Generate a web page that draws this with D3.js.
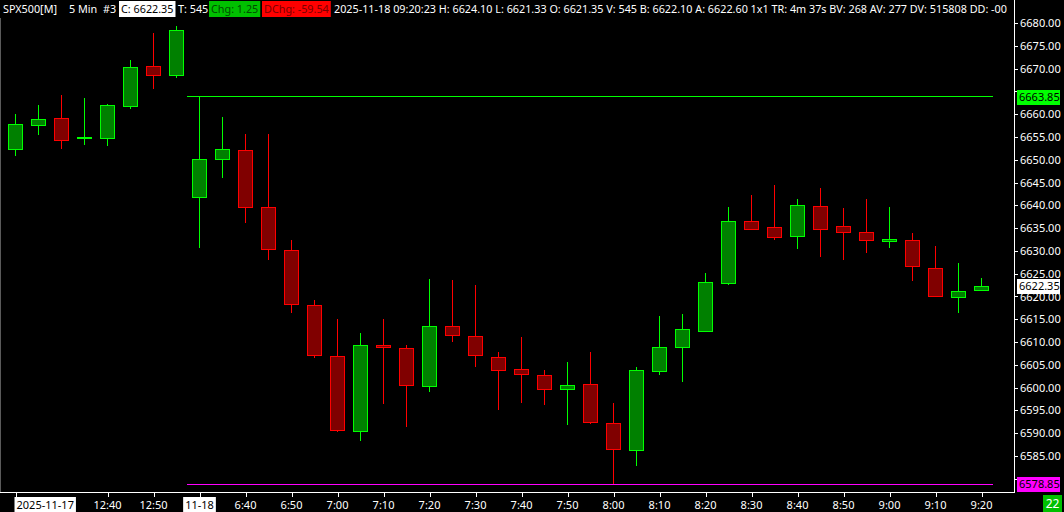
<!DOCTYPE html>
<html><head><meta charset="utf-8">
<script src="https://cdn.jsdelivr.net/npm/d3@7"></script>
<style>
html,body{margin:0;padding:0;background:#000;}
svg{display:block;}
text{font-family:"Noto Sans",sans-serif;}
</style></head><body>
<svg id="c" width="1064" height="512"></svg>
<script>
// ---- data ----
const times = ["12:20","12:25","12:30","12:35","12:40","12:45","12:50","12:55",
  "6:30","6:35","6:40","6:45","6:50","6:55","7:00","7:05","7:10","7:15","7:20","7:25","7:30","7:35",
  "7:40","7:45","7:50","7:55","8:00","8:05","8:10","8:15","8:20","8:25","8:30","8:35","8:40","8:45",
  "8:50","8:55","9:00","9:05","9:10","9:15","9:20"];
const opens  = [6652.3,6657.6,6659.1,6654.7,6654.7,6661.7,6670.5,6668.5,
  6641.9,6650.1,6652.1,6639.6,6630.2,6618.1,6606.9,6590.5,6609.3,6608.7,6600.3,6613.5,6611.3,6606.7,
  6604.1,6602.7,6599.7,6600.8,6592.2,6586.3,6603.6,6608.9,6612.5,6622.9,6636.5,6635.2,6633.2,6639.8,
  6635.4,6634.1,6632.1,6632.4,6626.2,6619.9,6621.35];
const highs  = [6660.0,6662.0,6664.2,6663.6,6662.2,6671.9,6677.8,6679.3,
  6663.85,6659.4,6655.7,6655.7,6632.4,6619.3,6615.1,6612.0,6615.1,6609.3,6623.9,6623.6,6622.5,6607.9,
  6611.1,6603.9,6605.7,6607.9,6596.7,6604.6,6615.8,6616.2,6625.2,6639.7,6642.3,6644.5,6641.4,6643.8,
  6639.4,6641.4,6639.7,6634.0,6631.1,6627.4,6624.10];
const lows   = [6650.9,6655.5,6652.3,6653.3,6653.1,6661.2,6665.6,6668.0,
  6630.7,6645.9,6636.2,6628.1,6616.3,6606.6,6590.2,6588.4,6596.5,6591.3,6599.1,6610.1,6604.6,6595.0,
  6596.7,6596.2,6591.7,6592.1,6578.85,6582.9,6602.7,6601.3,6612.1,6622.5,6634.6,6632.5,6630.5,6628.7,
  6627.9,6629.6,6630.7,6623.5,6619.8,6616.3,6621.33];
const closes = [6657.8,6658.9,6654.3,6654.9,6662.0,6670.3,6668.5,6678.4,
  6650.1,6652.3,6639.6,6630.4,6618.3,6607.1,6590.7,6609.3,6608.9,6600.6,6613.5,6611.5,6607.1,6603.8,
  6603.0,6599.7,6600.6,6592.4,6586.5,6603.8,6608.9,6612.8,6623.1,6636.5,6634.9,6633.0,6640.0,6634.9,
  6634.1,6632.4,6632.6,6626.6,6620.0,6621.2,6622.35];
const tickIndex = [0,4,6,8,10,12,14,16,18,20,22,24,26,28,30,32,34,36,38,40,42];
const tickText  = ["2025-11-17","12:40","12:50","11-18","6:40","6:50","7:00","7:10","7:20","7:30",
  "7:40","7:50","8:00","8:10","8:20","8:30","8:40","8:50","9:00","9:10","9:20"];
const boxedTicks = ["2025-11-17","11-18"];
const priceTicks = d3.range(6580, 6681, 5);
const dayHigh = 6663.85, dayLow = 6578.85, lastPrice = 6622.35, sessionStart = 8;
const headerText = ["SPX500[M]","5 Min","#3","C: 6622.35","T: 545","Chg: 1.25","DChg: -59.54",
  "2025-11-18 09:20:23 H: 6624.10 L: 6621.33 O: 6621.35 V: 545 B: 6622.10 A: 6622.60 1x1 TR: 4m 37s BV: 268 AV: 277 DV: 515808 DD: -00"];
const headerX    = [3,69,103,121,178,211,264,334];
const headerBg   = [null,null,null,"#ffffff",null,"#00c000","#ff0000",null];
const headerFg   = ["#fff","#fff","#fff","#000","#fff","#004d00","#7a0000","#fff"];
const barCount = "22";

// ---- drawing ----
const W = 1064, H = 512, plotR = 1014, plotB = 492, FS = "11px";
const svg = d3.select("#c");
svg.append("rect").attr("width",W).attr("height",H).attr("fill","#000");

const x = d3.scaleLinear().domain([0, times.length-1]).range([15, 981]);
const y = d3.scaleLinear().domain([6680, 6585]).range([23, 456]);
const step = x(1) - x(0);

const frame = svg.append("g").attr("shape-rendering","crispEdges");
frame.append("rect").attr("x",0).attr("y",18).attr("width",1).attr("height",plotB-18).attr("fill","#5a5a5a");
frame.append("rect").attr("x",plotR).attr("y",0).attr("width",1).attr("height",plotB+1).attr("fill","#fff");
frame.append("rect").attr("x",0).attr("y",plotB).attr("width",plotR+1).attr("height",1).attr("fill","#fff");

// day high / low lines
const lx1 = Math.round(x(sessionStart) - step/2), lx2 = Math.round(x(times.length-1) + step/2);
frame.append("rect").attr("x",lx1).attr("width",lx2-lx1).attr("y",Math.floor(y(dayHigh))).attr("height",1).attr("fill","#00ff00");
frame.append("rect").attr("x",lx1).attr("width",lx2-lx1).attr("y",Math.round(y(dayLow))).attr("height",1).attr("fill","#ff00ff");

// candles
const data = times.map((t,i)=>({t,i,o:opens[i],h:highs[i],l:lows[i],c:closes[i]}));
const g = svg.append("g").attr("shape-rendering","crispEdges");
g.selectAll("g.c").data(data).join("g").attr("class","c").each(function(d){
  const up = d.c >= d.o;
  const bright = up ? "#00ff00" : "#ff0000", dark = up ? "#008000" : "#800000";
  const cx = Math.round(x(d.i));
  const sel = d3.select(this);
  sel.append("rect").attr("x",cx).attr("width",1)
    .attr("y",Math.round(y(d.h))).attr("height",Math.max(1,Math.round(y(d.l))-Math.round(y(d.h))))
    .attr("fill",bright);
  const top = Math.round(y(Math.max(d.o,d.c))), bot = Math.round(y(Math.min(d.o,d.c)));
  const hh = Math.max(2, bot-top+1);
  sel.append("rect").attr("x",cx-7).attr("width",15).attr("y",top).attr("height",hh).attr("fill",bright);
  if (hh > 2) sel.append("rect").attr("x",cx-6).attr("width",13).attr("y",top+1).attr("height",hh-2).attr("fill",dark);
});

// price boxes (values shown on the right scale)
const boxes = [[dayHigh,"#00ff00","#000"],[lastPrice,"#ffffff","#000"],[dayLow,"#ff00ff","#000"]];

// right axis
const ya = svg.append("g").attr("transform",`translate(${plotR+1},0)`)
  .call(d3.axisRight(y).tickValues(priceTicks).tickFormat(d3.format(".2f")).tickSize(3).tickPadding(2));
ya.select(".domain").remove();
ya.selectAll(".tick line").attr("stroke","#fff").attr("shape-rendering","crispEdges");
ya.selectAll(".tick text").attr("fill","#fff").attr("font-size",FS).attr("font-family","Noto Sans");
// labels fully hidden behind a price box are not drawn
ya.selectAll(".tick").filter(d => boxes.some(b => Math.abs(y(b[0]) - y(d)) < 8)).select("text").remove();

boxes.forEach(([v,bg,fg])=>{
  const cy = Math.round(y(v));
  svg.append("rect").attr("x",1017).attr("y",cy-7).attr("width",43).attr("height",15).attr("fill",bg);
  svg.append("text").attr("x",1019).attr("y",cy+0.5).attr("dy","0.35em").attr("fill",fg)
    .attr("font-size",FS).text(d3.format(".2f")(v));
});

// bottom axis
const xa = svg.append("g").attr("transform",`translate(0,${plotB+1})`)
  .call(d3.axisBottom(x).tickValues(tickIndex).tickFormat((d,k)=>tickText[k]).tickSize(4).tickPadding(4));
xa.select(".domain").remove();
xa.selectAll(".tick line").attr("stroke","#fff").attr("transform","translate(0.5,0)").attr("shape-rendering","crispEdges");
xa.selectAll(".tick text").attr("fill","#fff").attr("font-size",FS).attr("font-family","Noto Sans");
xa.selectAll(".tick").each(function(d,k){
  const t = d3.select(this).select("text");
  if (boxedTicks.includes(tickText[k])) {
    const w = t.node().getComputedTextLength();
    let shift = 0;
    if (x(d) - w/2 < 16) shift = 16 - (x(d) - w/2);
    t.attr("x", shift).attr("fill","#000");
    d3.select(this).insert("rect","text").attr("x",-w/2+shift-2).attr("y",4).attr("width",w+4).attr("height",15).attr("fill","#fff");
  }
});

// bar count box
svg.append("rect").attr("x",1043).attr("y",495).attr("width",19).attr("height",17).attr("fill","#00c000");
svg.append("text").attr("x",1052.5).attr("y",504).attr("dy","0.35em").attr("text-anchor","middle")
  .attr("fill","#fff").attr("font-size","12px").text(barCount);

// header
svg.append("clipPath").attr("id","hc").append("rect").attr("width",plotR).attr("height",18);
const hg = svg.append("g").attr("clip-path","url(#hc)");
headerText.forEach((s,k)=>{
  const t = hg.append("text").attr("x",headerX[k]).attr("y",9).attr("dy","0.35em")
    .attr("fill",headerFg[k]).attr("font-size","10.8px").text(s);
  if (headerBg[k]) {
    const w = t.node().getComputedTextLength();
    hg.insert("rect","text").attr("x",headerX[k]-2).attr("y",1).attr("width",w+4).attr("height",16).attr("fill",headerBg[k]);
  }
});
</script></body></html>
